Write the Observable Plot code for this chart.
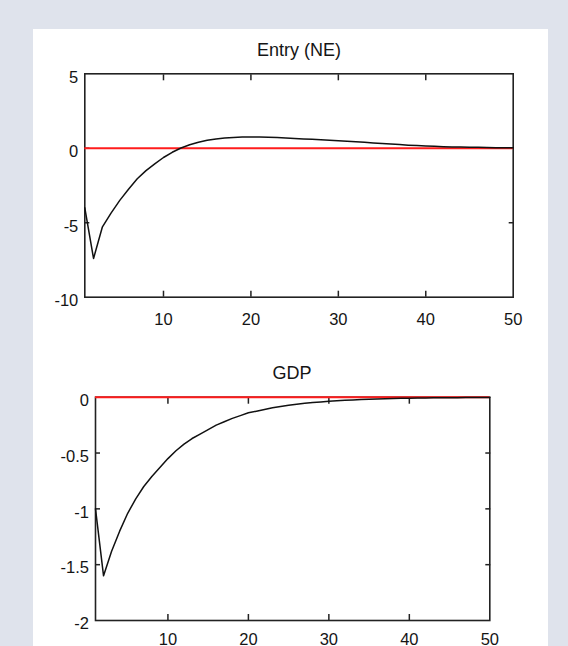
<!DOCTYPE html>
<html><head><meta charset="utf-8">
<script src="https://cdn.jsdelivr.net/npm/d3@7"></script>
<script src="https://cdn.jsdelivr.net/npm/@observablehq/plot@0.6"></script>
<style>
html,body{margin:0;padding:0;background:#dfe3ec;width:568px;height:646px;overflow:hidden;position:relative;}
#panel{position:absolute;left:33px;top:29px;width:515px;height:640px;background:#fff;}
.plot{position:absolute;left:0;}
.title{position:absolute;font-family:"Liberation Sans",Arial,sans-serif;font-size:18px;line-height:18px;color:#151515;white-space:nowrap;transform:translateX(-50%);}
</style></head><body>
<div id="panel"></div>
<div class="title" id="t1" style="left:299px;top:41px;">Entry (NE)</div>
<div class="title" id="t2" style="left:292px;top:364px;">GDP</div>
<div class="plot" id="p1" style="top:0px;"></div>
<div class="plot" id="p2" style="top:340px;"></div>
<script>
const periods = [1,2,3,4,5,6,7,8,9,10,11,12,13,14,15,16,17,18,19,20,21,22,23,24,25,26,27,28,29,30,31,32,33,34,35,36,37,38,39,40,41,42,43,44,45,46,47,48,49,50];
const entryValues = [-4.0,-7.4,-5.3,-4.35,-3.5,-2.75,-2.05,-1.5,-1.05,-0.62,-0.27,0.02,0.24,0.41,0.54,0.63,0.69,0.73,0.75,0.76,0.76,0.74,0.72,0.69,0.66,0.63,0.6,0.57,0.54,0.5,0.47,0.43,0.4,0.36,0.32,0.28,0.25,0.21,0.18,0.15,0.13,0.11,0.09,0.08,0.07,0.06,0.05,0.04,0.03,0.03];
const gdpValues = [-1.0,-1.6,-1.38,-1.2,-1.04,-0.91,-0.8,-0.71,-0.63,-0.55,-0.48,-0.42,-0.37,-0.33,-0.29,-0.25,-0.22,-0.19,-0.165,-0.14,-0.125,-0.11,-0.095,-0.083,-0.072,-0.063,-0.055,-0.048,-0.042,-0.037,-0.032,-0.028,-0.024,-0.021,-0.018,-0.016,-0.014,-0.012,-0.01,-0.009,-0.008,-0.007,-0.006,-0.005,-0.0045,-0.004,-0.0035,-0.003,-0.0025,-0.002];
const xTickLabels = [10,20,30,40,50];
const xTickMarks = [10,20,30,40];
const entryYLabels = [5,0,-5,-10];
const entryYMarks = [0,-5];
const gdpYLabels = [0,-0.5,-1,-1.5,-2];
const gdpYMarks = [-0.5,-1,-1.5];

const entryData = periods.map((p,i)=>({x:p, y:entryValues[i]}));
const gdpData = periods.map((p,i)=>({x:p, y:gdpValues[i]}));

const font = "Liberation Sans, Arial, sans-serif";
function makePlot({data, yDomain, yLabels, yMarks, height, margins, xPad}) {
  return Plot.plot({
    width: 568,
    height,
    ...margins,
    style: {background: "transparent", overflow: "visible", fontFamily: font, fontSize: "16.5px", color: "#151515"},
    x: {domain: [1, 50], label: null},
    y: {domain: yDomain, label: null},
    marks: [
      Plot.frame({stroke: "#222", strokeWidth: 1.6}),
      Plot.axisX({anchor: "bottom", ticks: xTickLabels, tickSize: 0, tickPadding: xPad, label: null, tickFormat: d => String(d)}),
      Plot.axisX({anchor: "bottom", ticks: xTickMarks, tickSize: -6, tickFormat: () => "", label: null, stroke: "#222", strokeWidth: 1.5}),
      Plot.axisX({anchor: "top", ticks: xTickMarks, tickSize: -6, tickFormat: () => "", label: null, stroke: "#222", strokeWidth: 1.5}),
      Plot.axisY({anchor: "left", ticks: yLabels, tickSize: 0, tickPadding: 6.5, dy: 3.5, label: null, tickFormat: d => String(d)}),
      Plot.axisY({anchor: "left", ticks: yMarks, tickSize: -5, tickFormat: () => "", label: null, stroke: "#222", strokeWidth: 1.5}),
      Plot.axisY({anchor: "right", ticks: yMarks, tickSize: -5, tickFormat: () => "", label: null, stroke: "#222", strokeWidth: 1.5}),
      Plot.ruleY([0], {stroke: "#ff1c1c", strokeWidth: 2}),
      Plot.line(data, {x: "x", y: "y", stroke: "#111", strokeWidth: 1.5})
    ]
  });
}

document.getElementById("p1").append(makePlot({
  data: entryData, yDomain: [-10, 5], yLabels: entryYLabels, yMarks: entryYMarks,
  height: 345, margins: {marginTop: 73.3, marginBottom: 48.3, marginLeft: 84.3, marginRight: 55.3}, xPad: 16
}));
document.getElementById("p2").append(makePlot({
  data: gdpData, yDomain: [-2, 0], yLabels: gdpYLabels, yMarks: gdpYMarks,
  height: 306, margins: {marginTop: 56.7, marginBottom: 26, marginLeft: 95, marginRight: 78.7}, xPad: 13
}));
</script>
</body></html>
